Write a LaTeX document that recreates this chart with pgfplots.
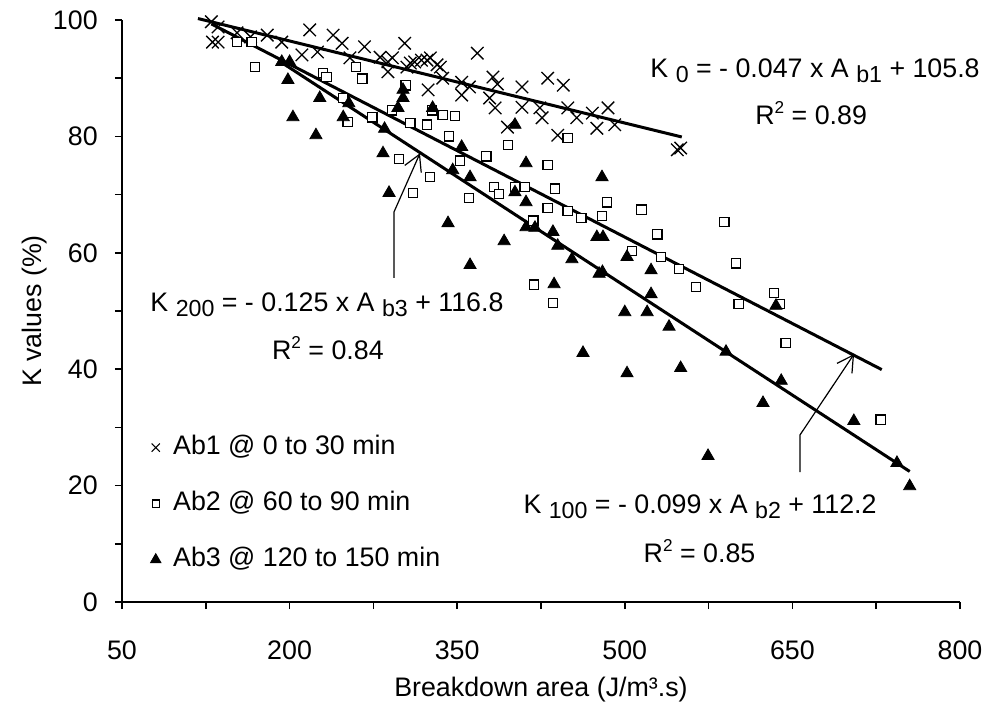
\documentclass[border=0pt]{standalone}
\usepackage{pgfplots}
\pgfplotsset{compat=1.18}
\usepackage{fontspec}
\setmainfont{Liberation Sans}
\usetikzlibrary{arrows.meta}

\newcommand{\lbl}{\fontsize{13.4}{16}\selectfont}
\newcommand{\sub}[1]{\raisebox{-2.6pt}{\fontsize{11.6}{12}\selectfont #1}}
\newcommand{\sqr}{\raisebox{5.6pt}{\fontsize{8.6}{9}\selectfont 2}}

\begin{document}
\lbl
\begin{tikzpicture}
\begin{axis}[
  scale only axis, width=419pt, height=291pt,
  xmin=50, xmax=800, ymin=0, ymax=100,
  axis lines*=left,
  axis line style={line width=1pt},
  xtick={50,200,...,800}, minor xtick={125,275,...,725},
  ytick={0,20,...,100}, minor ytick={10,30,...,90},
  tick align=outside, major tick length=3.5pt, minor tick length=3.5pt,
  every tick/.style={black, line width=0.8pt},
  minor tick style={black, line width=0.8pt},
  /pgf/number format/assume math mode=true,
  tick label style={font=\lbl},
  xticklabel style={anchor=base, yshift=-25pt},
  yticklabel style={anchor=east, xshift=-4pt},
  xlabel={Breakdown area (J/m³.s)},
  ylabel={K values (\%)},
  label style={font=\lbl},
  xlabel style={at={(axis description cs:0.5,0)}, anchor=center, yshift=-44pt},
  ylabel style={at={(axis description cs:-0.1038,0.5)}, anchor=center},
  clip=false,
  legend cell align=left,
  legend image code/.code={\path (-0.1cm,0cm) (0.2cm,0cm); \draw[#1] plot coordinates {(0cm,0cm)};},
  legend style={at={(axis cs:74.4,16.9)}, anchor=west, draw=none, fill=none,
    inner sep=0pt, row sep=15pt, column sep=2.8pt, font=\lbl,
    nodes={inner sep=0pt, text height=10pt, text depth=3pt}},
]

% Ab1 @ 0 to 30 min
\addplot[forget plot, only marks, mark=x, mark size=4.4pt, mark options={line width=0.65pt}] coordinates {
(130,99.7) (136,98.8) (131,96.2) (136,96.2) (153,97.8) (165,97.1) (180,97.4)
(193,96.2) (211,94) (218,98.3) (225,94.5) (239,97.4) (247,96) (254,93.5)
(267,95.4) (281,93.6) (288,92.8) (288,91.1) (292,93.5) (303,96) (305,91.9)
(308,92.6) (312,92.8) (318,93.1) (323,93.1) (326,93.5) (332,92.3) (335,91.9)
(337,90) (324,88) (354,89.3) (354,87.1) (361,88.5) (368,94.3) (379,86.6)
(382,90.2) (384,84.9) (386,89) (395,81.6) (408,88.5) (408,85) (424,84.9)
(426,83.2) (431,90) (440,80.2) (445,88.8) (449,84.9) (457,83.2) (471,84)
(475,81.4) (485,84.9) (491,82) (547,77.7) (550,78)
};

% Ab2 @ 60 to 90 min
\addplot[forget plot, only marks, mark=square*, mark size=2.35pt, mark options={fill=white, draw=black, line width=0.65pt}] coordinates {
(153,96.2) (166,96.2) (169,91.9) (230,90.9) (233,90.2) (248,86.6) (252,82.5)
(259.5,91.9) (265,89.9) (274,83.3) (291.7,84.5) (298,76.1) (304,88.8) (308,82.3)
(310.5,70.3) (323,82) (325.7,73) (327.5,84.5) (337,83.7) (342.7,80) (348,83.5)
(352.5,75.8) (360.6,69.4) (376,76.6) (383,71.3) (387.5,70.1) (395.5,78.5)
(401.7,71.3) (410.7,71.3) (418,65.5) (418.7,54.5) (431,75.1) (431,67.7)
(435.7,51.4) (437.5,71) (449,79.7) (449,67.2) (461,66) (479.6,66.3) (484,68.7)
(506.5,60.3) (515,67.4) (529,63.2) (532.4,59.3) (548.5,57.2) (563.7,54.1)
(589,65.3) (599.5,58.2) (602,51.2) (633.5,53.1) (639,51.2) (644,44.5) (729,31.3)
};

% Ab3 @ 120 to 150 min
\addplot[forget plot, only marks, mark=triangle*, mark size=3.5pt, black] coordinates {
(193,92.8) (200,92.8) (198.5,89.7) (203,83.3) (223.6,80.2) (227,86.6) (248,83.3)
(253,85.7) (283.6,77.1) (285,81.3) (289,70.3) (297,84.9) (301.5,88) (301.5,86.6)
(328,84.9) (341.8,65.1) (346,74.2) (354,78.2) (361.5,73) (361.5,57.9) (392,62)
(401.7,82) (401.7,70.4) (411.6,75.4) (411.6,68.7) (411.6,64.4) (419.6,64.3)
(435.7,63.6) (436.7,54.6) (440,61.2) (452.7,58.9) (462.6,42.8) (475,62.7)
(477,56.4) (479.6,73) (480.5,62.7) (480,56.7) (500,49.8) (502,59.3) (502,39.3)
(520,49.8) (523.5,57) (523.5,52.9) (539.6,47.3) (550,40.2) (574.5,25.1)
(590.6,43) (623.7,34.2) (635.3,50.9) (640,38) (705,31.1) (743.6,23.9) (755,19.9)
};

% fitted lines
\addplot[forget plot, no marks, line width=1.5pt] coordinates {(118,100.25) (551,79.9)};
\addplot[forget plot, no marks, line width=1.5pt] coordinates {(130,99.33) (730,39.93)};
\addplot[forget plot, no marks, line width=1.5pt] coordinates {(190,93.05) (755,22.43)};

% legend entries
\addlegendimage{only marks, mark=x, mark size=2.9pt, mark options={line width=0.55pt}}
\addlegendentry{Ab1 @ 0 to 30 min}
\addlegendimage{only marks, mark=square*, mark size=1.8pt, mark options={fill=white, draw=black, line width=0.55pt}}
\addlegendentry{Ab2 @ 60 to 90 min}
\addlegendimage{only marks, mark=triangle*, mark size=3pt, black}
\addlegendentry{Ab3 @ 120 to 150 min}

% equations
\begin{scope}[every node/.style={inner sep=0pt, font=\lbl}]
\node[anchor=base west] at (axis cs:522.6,90.2) {K \sub{0} = - 0.047 x A \sub{b1} + 105.8};
\node[anchor=base west] at (axis cs:616.5,82.0) {R\sqr{} = 0.89};
\node[anchor=base west] at (axis cs:75.1,49.9) {K \sub{200} = - 0.125 x A \sub{b3} + 116.8};
\node[anchor=base west] at (axis cs:184,41.6) {R\sqr{} = 0.84};
\node[anchor=base east] at (axis cs:725.7,15.2) {K \sub{100} = - 0.099 x A \sub{b2} + 112.2};
\node[anchor=base west] at (axis cs:516.6,6.75) {R\sqr{} = 0.85};
\end{scope}

% pointers
\draw[line width=0.6pt, -{Straight Barb[length=8pt,width=9pt]}]
  (axis cs:293.4,55.7) -- (axis cs:293.4,67) -- (axis cs:316.7,77.1);
\draw[line width=0.6pt, -{Straight Barb[length=8pt,width=9pt]}]
  (axis cs:656.8,22.3) -- (axis cs:656.8,28.7) -- (axis cs:705.2,42.6);
\end{axis}
\pgfresetboundingbox
\path (-61pt,-53pt) rectangle (432.5pt,301pt);
\end{tikzpicture}
\end{document}
